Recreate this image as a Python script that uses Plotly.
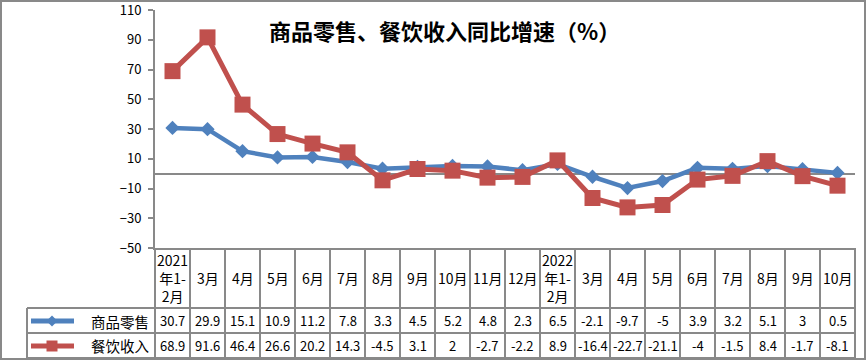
import plotly.graph_objects as go

# ---------------- data ----------------
categories = ["2021年1-2月", "3月", "4月", "5月", "6月", "7月", "8月", "9月", "10月", "11月",
              "12月", "2022年1-2月", "3月", "4月", "5月", "6月", "7月", "8月", "9月", "10月"]
header_labels = ["2021<br>年1-<br>2月", "3月", "4月", "5月", "6月", "7月", "8月", "9月", "10月", "11月",
                 "12月", "2022<br>年1-<br>2月", "3月", "4月", "5月", "6月", "7月", "8月", "9月", "10月"]
retail = [30.7, 29.9, 15.1, 10.9, 11.2, 7.8, 3.3, 4.5, 5.2, 4.8,
          2.3, 6.5, -2.1, -9.7, -5, 3.9, 3.2, 5.1, 3, 0.5]
catering = [68.9, 91.6, 46.4, 26.6, 20.2, 14.3, -4.5, 3.1, 2, -2.7,
            -2.2, 8.9, -16.4, -22.7, -21.1, -4, -1.5, 8.4, -1.7, -8.1]
series_names = ["商品零售", "餐饮收入"]
y_ticks = [-50, -30, -10, 10, 30, 50, 70, 90, 110]
title_text = "商品零售、餐饮收入同比增速（%）"

# ---------------- style ----------------
BLUE = "#4F81BD"
RED = "#C0504D"
GRAY = "#898989"
CJK = "Noto Sans CJK SC"

W, H = 867, 361
L, R, T, B = 155, 12, 10, 113
PW = W - L - R
PH = H - T - B


def px(x):
    return (x - L) / PW


def py(y):
    return (H - B - y) / PH


def fmt(v):
    return "%g" % v


n = len(categories)
xs = list(range(n))

fig = go.Figure()
fig.add_trace(go.Scatter(
    x=xs, y=retail, name=series_names[0], mode="lines+markers",
    line=dict(color=BLUE, width=4.5),
    marker=dict(symbol="diamond", size=11, color=BLUE),
    customdata=categories, hovertemplate="%{customdata}: %{y}<extra></extra>",
))
fig.add_trace(go.Scatter(
    x=xs, y=catering, name=series_names[1], mode="lines+markers",
    line=dict(color=RED, width=5),
    marker=dict(symbol="square", size=16, color=RED),
    customdata=categories, hovertemplate="%{customdata}: %{y}<extra></extra>",
))

shapes = []
line_style = dict(color=GRAY, width=2)
# outer chart border
shapes.append(dict(type="rect", xref="paper", yref="paper",
                   x0=px(1), x1=px(865), y0=py(1), y1=py(359), line=line_style))
# table horizontal lines
for yy in (308, 333, 358):
    shapes.append(dict(type="line", xref="paper", yref="paper",
                       x0=px(27), x1=1, y0=py(yy), y1=py(yy), line=line_style))
# legend column left edge
shapes.append(dict(type="line", xref="paper", yref="paper",
                   x0=px(27), x1=px(27), y0=py(308), y1=py(358), line=line_style))
# column boundaries
for k in range(n + 1):
    shapes.append(dict(type="line", xref="paper", yref="paper",
                       x0=k / n, x1=k / n, y0=py(248), y1=py(358), line=line_style))

# legend keys
for (cy, color, kind) in ((321, BLUE, "diamond"), (346, RED, "square")):
    shapes.append(dict(type="line", xref="paper", yref="paper",
                       x0=px(31), x1=px(74), y0=py(cy), y1=py(cy),
                       line=dict(color=color, width=5)))
    cx = 52
    if kind == "diamond":
        d = 5.5
        path = "M %f,%f L %f,%f L %f,%f L %f,%f Z" % (
            px(cx - d), py(cy), px(cx), py(cy - d), px(cx + d), py(cy), px(cx), py(cy + d))
    else:
        d = 5.5
        path = "M %f,%f L %f,%f L %f,%f L %f,%f Z" % (
            px(cx - d), py(cy - d), px(cx + d), py(cy - d), px(cx + d), py(cy + d), px(cx - d), py(cy + d))
    shapes.append(dict(type="path", xref="paper", yref="paper", path=path,
                       fillcolor=color, line=dict(color=color, width=0)))

annotations = []
annotations.append(dict(text=title_text, xref="paper", yref="paper", x=px(444), y=py(30),
                        showarrow=False, xanchor="center", yanchor="middle",
                        font=dict(family=CJK, size=22, color="#000000", weight="bold")))
for i, lab in enumerate(header_labels):
    annotations.append(dict(text=lab, xref="x", yref="paper", x=i, y=py(278),
                            showarrow=False, xanchor="center", yanchor="middle",
                            font=dict(family=CJK, size=14, color="#000000")))
for row_vals, cy in ((retail, 320.5), (catering, 345.5)):
    for i, v in enumerate(row_vals):
        annotations.append(dict(text=fmt(v), xref="x", yref="paper", x=i, y=py(cy),
                                showarrow=False, xanchor="center", yanchor="middle",
                                font=dict(family=CJK, size=13, color="#000000")))
for name, cy in zip(series_names, (321, 346)):
    annotations.append(dict(text=name, xref="paper", yref="paper", x=px(151), y=py(cy),
                            showarrow=False, xanchor="right", yanchor="middle",
                            font=dict(family=CJK, size=14.5, color="#000000")))

fig.update_layout(
    width=W, height=H,
    margin=dict(l=L, r=R, t=T, b=B, pad=0, autoexpand=False),
    paper_bgcolor="white", plot_bgcolor="white",
    showlegend=False,
    shapes=shapes, annotations=annotations,
    xaxis=dict(range=[-0.5, n - 0.5], showticklabels=False, ticks="", showgrid=False,
               zeroline=False, showline=True, linecolor=GRAY, linewidth=2, fixedrange=True,
               automargin=False),
    yaxis=dict(range=[-50, 110], tickvals=y_ticks, ticks="outside", ticklen=5,
               tickwidth=2, tickcolor=GRAY, showgrid=False, showline=True,
               linecolor=GRAY, linewidth=2, zeroline=True, zerolinecolor=GRAY,
               zerolinewidth=2, ticklabelstandoff=4, ticklabeloverflow="allow",
               automargin=False,
               tickfont=dict(family=CJK, size=13, color="#000000"), fixedrange=True),
)

fig.write_html("out.html", config={"displayModeBar": False},
               post_script="document.body.style.margin='0';document.documentElement.style.margin='0';")
